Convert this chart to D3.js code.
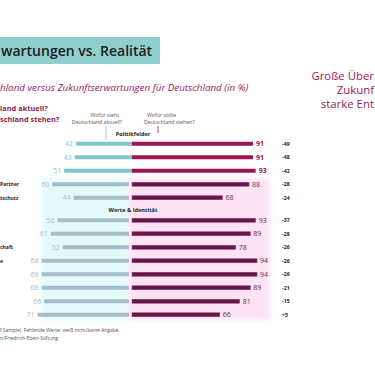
<!DOCTYPE html>
<html>
<meta charset="utf-8">
<head>
  <script src="https://d3js.org/d3.v7.js"></script>
  <style>
    body { margin: 0; background: #fff; }
    text { font-family: "Open Sans", sans-serif; }
  </style>
</head>
<body>
<svg id="chart" width="375" height="366"></svg>
<script>
  // data (left edge of the slide is cut off)
  var politikLabels = ["", "", "", "Partner", "tschutz"];
  var politikAktuell = [42, 43, 51, 60, 44];
  var politikSollte = [91, 91, 93, 88, 68];
  var politikDiff = ["-49", "-48", "-42", "-28", "-24"];

  var werteLabels = ["", "", "chaft", "e", "", "", "", ""];
  var werteAktuell = [56, 61, 52, 68, 68, 68, 66, 71];
  var werteSollte = [93, 89, 78, 94, 94, 89, 81, 66];
  var werteDiff = ["-37", "-28", "-26", "-26", "-26", "-21", "-15", "+5"];

  var svg = d3.select("svg#chart");
  var teal = "#7fc8c6", tealGrey = "#a5bfc8", magenta = "#9e1556", plum = "#5c1b48";

  // title band
  svg.append("rect").attr("x", 0).attr("y", 37).attr("width", 160).attr("height", 27)
    .attr("fill", "#8fd0cd");
  svg.append("text").attr("x", 1).attr("y", 56)
    .style("font-size", "14px").style("font-weight", 600).attr("fill", "#1c1c1c")
    .text("wartungen vs. Realität");

  svg.append("text").attr("x", 0).attr("y", 91)
    .style("font-size", "9.8px").style("font-style", "italic").attr("fill", "#9b1a5c")
    .text("hland versus Zukunftserwartungen für Deutschland (in %)");

  svg.append("text").attr("x", 0).attr("y", 111)
    .style("font-size", "7.4px").style("font-weight", 700).attr("fill", "#8c1a52")
    .text("land aktuell?");
  svg.append("text").attr("x", 0).attr("y", 122)
    .style("font-size", "7.4px").style("font-weight", 700).attr("fill", "#8c1a52")
    .text("schland stehen?");

  // right hand teaser text
  var teaser = ["Große Über", "Zukunf", "starke Ent"];
  svg.selectAll(".teaser").data(teaser).enter().append("text")
    .attr("x", 374).attr("y", (d, i) => 80 + i * 14)
    .attr("text-anchor", "end")
    .style("font-size", "11.4px").attr("fill", "#9b1a5c")
    .text(d => d);

  // scales
  var cx = 132;
  var xLeft = d3.scaleLinear().domain([0, 100]).range([cx, cx - 133]);
  var xRight = d3.scaleLinear().domain([0, 100]).range([cx, cx + 133]);

  var y1 = d3.scaleBand().domain(d3.range(politikAktuell.length))
    .range([137, 137 + 13.5 * politikAktuell.length]);
  var y2 = d3.scaleBand().domain(d3.range(werteAktuell.length))
    .range([213.5, 213.5 + 13.5 * werteAktuell.length]);

  // soft highlight behind the lower rows
  var defs = svg.append("defs");
  defs.append("filter").attr("id", "soft").attr("x", "-20%").attr("y", "-20%")
    .attr("width", "140%").attr("height", "140%")
    .append("feGaussianBlur").attr("stdDeviation", 2.5);
  var hlTop = y1(3) + 1, hlBot = y2(werteAktuell.length - 1) + 12;
  svg.append("rect").attr("x", 42).attr("y", hlTop).attr("width", cx - 4 - 42)
    .attr("height", hlBot - hlTop).attr("fill", "#e3fafa").attr("filter", "url(#soft)");
  svg.append("rect").attr("x", cx - 4).attr("y", hlTop).attr("width", 142)
    .attr("height", hlBot - hlTop).attr("fill", "#fde3f4").attr("filter", "url(#soft)");

  // column headers
  var hdr = svg.append("g").style("font-size", "5.2px").attr("fill", "#555");
  hdr.append("text").attr("x", 119).attr("y", 117).attr("text-anchor", "end").text("Wofür steht");
  hdr.append("text").attr("x", 122).attr("y", 124).attr("text-anchor", "end").text("Deutschland aktuell?");
  hdr.append("text").attr("x", 147).attr("y", 117).text("Wofür sollte");
  hdr.append("text").attr("x", 144).attr("y", 124).text("Deutschland stehen?");
  svg.append("line").attr("x1", 106).attr("x2", 106).attr("y1", 126).attr("y2", 140)
    .attr("stroke", teal).attr("stroke-width", 0.8);
  svg.append("line").attr("x1", 158).attr("x2", 158).attr("y1", 126).attr("y2", 133)
    .attr("stroke", magenta).attr("stroke-width", 0.8);

  function section(yScale, labels, aktuell, sollte, diff, title, titleY, hlFrom) {
    svg.append("text").attr("x", cx + 1).attr("y", titleY).attr("text-anchor", "middle")
      .style("font-size", "5.6px").style("font-weight", 700).attr("fill", "#222")
      .text(title);

    var rows = svg.append("g").selectAll("g").data(aktuell).enter().append("g")
      .attr("transform", (d, i) => `translate(0, ${yScale(i) + yScale.bandwidth() / 2})`);

    rows.append("rect")
      .attr("x", d => xLeft(d)).attr("y", -2)
      .attr("width", (d, i) => cx - xLeft(d) - (i >= hlFrom ? 3 : 0)).attr("height", 4)
      .attr("fill", (d, i) => i >= hlFrom ? tealGrey : teal);

    rows.append("rect")
      .attr("x", cx).attr("y", -2)
      .attr("width", (d, i) => xRight(sollte[i]) - cx).attr("height", 4)
      .attr("fill", (d, i) => i >= hlFrom ? plum : magenta)
      .attr("stroke", (d, i) => i >= hlFrom ? "#b2306f" : "none")
      .attr("stroke-width", 0.5);

    rows.append("text")
      .attr("x", d => xLeft(d) - 3).attr("y", 2.5).attr("text-anchor", "end")
      .style("font-size", "7px")
      .attr("fill", (d, i) => i >= hlFrom ? "#a9c1c9" : "#86cbc9")
      .text(d => d);

    rows.append("text")
      .attr("x", (d, i) => xRight(sollte[i]) + 3).attr("y", 2.5)
      .style("font-size", "7px")
      .style("font-weight", (d, i) => i >= hlFrom ? 400 : 700)
      .attr("fill", (d, i) => i >= hlFrom ? "#6a2a58" : magenta)
      .text((d, i) => sollte[i]);

    rows.append("text")
      .attr("x", 282).attr("y", 2)
      .style("font-size", "5.2px").style("font-weight", 700).attr("fill", "#222")
      .text((d, i) => diff[i]);

    rows.append("text")
      .attr("x", 0).attr("y", 2)
      .style("font-size", "5px").style("font-weight", 700).attr("fill", "#222")
      .text((d, i) => labels[i]);
  }

  section(y1, politikLabels, politikAktuell, politikSollte, politikDiff, "Politikfelder", 136, 3);
  section(y2, werteLabels, werteAktuell, werteSollte, werteDiff, "Werte & Identität", 212, 0);

  // footnote
  var foot = svg.append("g").style("font-size", "4.9px").attr("fill", "#555");
  foot.append("text").attr("x", 0).attr("y", 332)
    .text("f Sample). Fehlende Werte: weiß nicht/keine Angabe.");
  foot.append("text").attr("x", 0).attr("y", 339.5)
    .text("n/Friedrich-Ebert-Stiftung");
</script>
</body>
</html>
